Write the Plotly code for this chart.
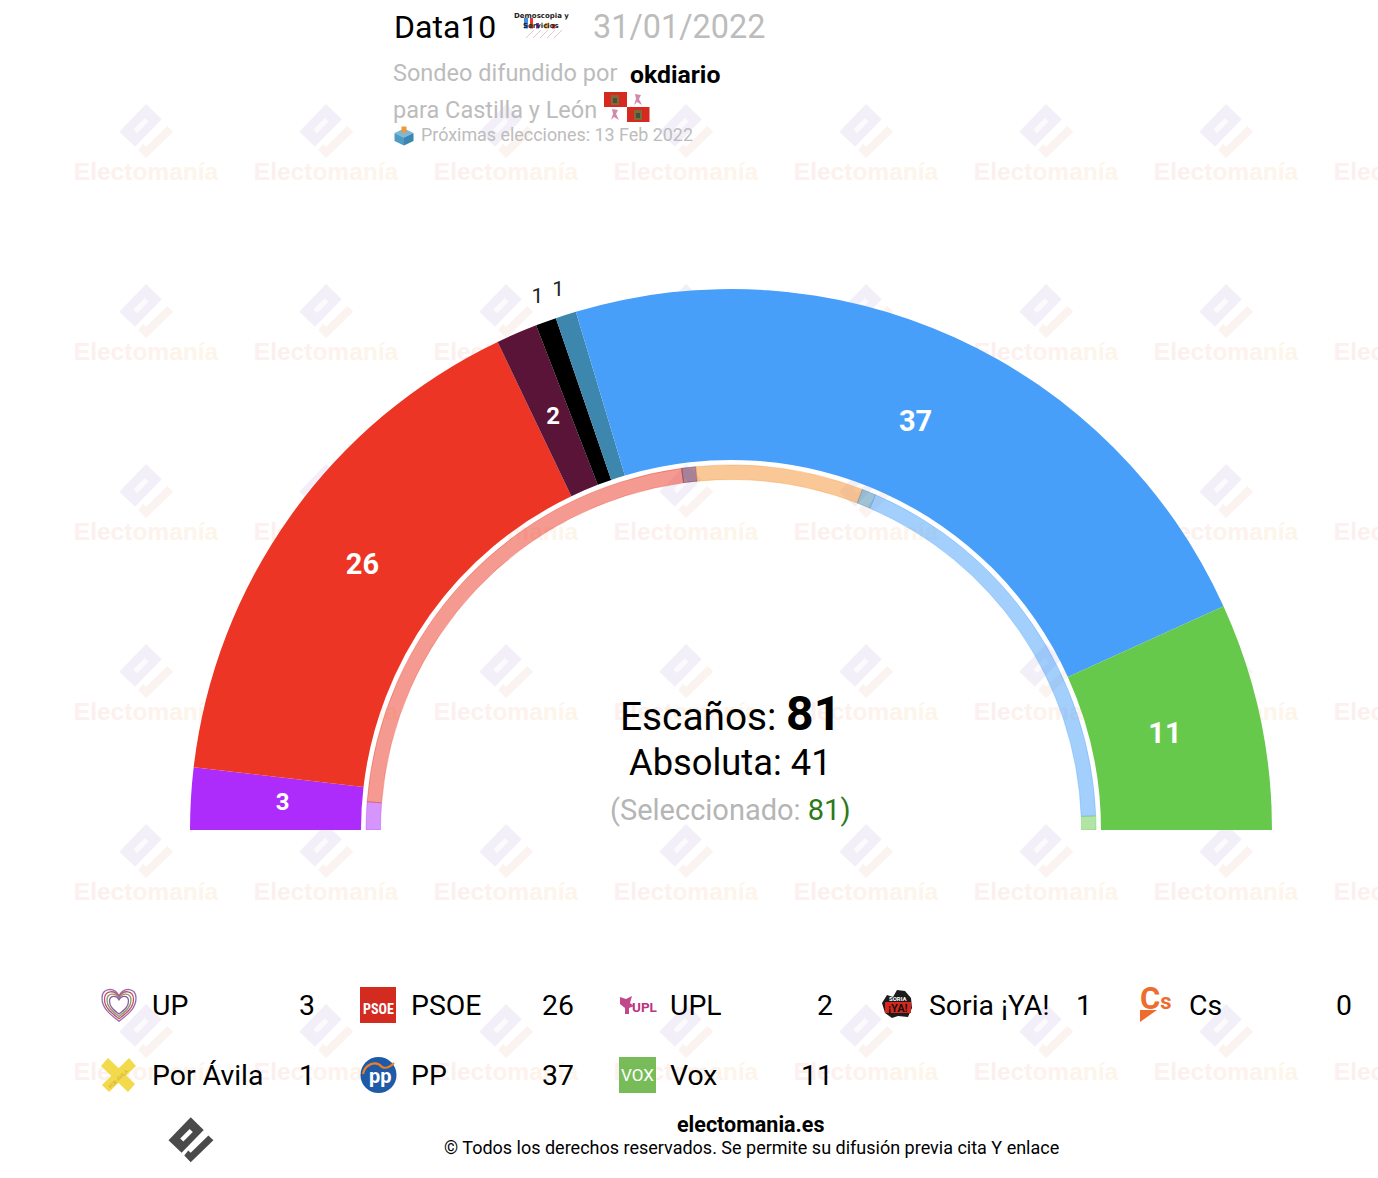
import plotly.graph_objects as go

# ---- data ----
parties = ["UP", "PSOE", "UPL", "Soria ¡YA!", "Por Ávila", "Cs", "PP", "Vox"]
seats = [3, 26, 2, 1, 1, 0, 37, 11]
colors = ["#ad2cfb", "#ec3524", "#5a1438", "#000000", "#3d86ad", "#f5912d", "#479ffa", "#66c94b"]
ring_parties = ["UP", "PSOE", "UPL", "Cs", "Por Ávila", "PP", "Vox"]
ring_seats = [2, 35, 1, 12, 1, 29, 1]
legend_row1 = ["UP", "PSOE", "UPL", "Soria ¡YA!", "Cs"]
legend_row2 = ["Por Ávila", "PP", "Vox"]
total_seats = 81
majority = 41
selected = 81
pollster = "Data10"
poll_date = "31/01/2022"
sponsor = "okdiario"
region = "Castilla y León"
next_election = "13 Feb 2022"

F = "Roboto"
GREY = "#bcbcbc"


def hex_rgba(h, a):
    return f"rgba({int(h[1:3],16)},{int(h[3:5],16)},{int(h[5:7],16)},{a})"


def segs(names, vals):
    out, cum = [], 0
    for n, v in zip(names, vals):
        if v > 0:
            out.append((n, (cum + v / 2) * 180 / total_seats, v * 180 / total_seats, v))
        cum += v
    return out


col_of = dict(zip(parties, colors))

fig = go.Figure()

# ---- watermark (under the polar layer) ----
wm_letters = "Electomanía"
wm_cols = ["#fcf0f0", "#fcf0ef", "#fcf0ee", "#fcf1ed", "#fdf1ed", "#fdf2ec", "#fdf2ec", "#fdf3eb", "#fdf4eb", "#fdf4ea", "#fdf5ea"]
wm_text = "<b>" + "".join(f'<span style="color:{c}">{l}</span>' for l, c in zip(wm_letters, wm_cols)) + "</b>"
tile_x = [146 + 180 * i for i in range(8)]
tile_y = [135 + 180 * j for j in range(-1, 6)]
fig.add_trace(go.Scatter(
    x=[x for x in tile_x for y in tile_y],
    y=[y + 39 for x in tile_x for y in tile_y],
    mode="text", text=[wm_text] * (len(tile_x) * len(tile_y)),
    textposition="middle center",
    textfont=dict(family="Liberation Sans", size=24.5, color="#fcf1ed"),
    hoverinfo="skip", showlegend=False))


def poly(pts):
    return "M" + " L".join(f"{x:.1f},{y:.1f}" for x, y in pts) + " Z "


BLOCK = [(0, -31), (15.7, -15.7), (-11, 11.7), (-26.7, -3.3)]
SLOT = [(-12.7, -5.6), (-1.3, -17), (2.5, -13.2), (-8.9, -1.8)]
TICK = [(-7.7, 15), (0, 23.3), (27.3, -3.3), (21.3, -9), (0, 11.7), (-3, 9)]


def icon_paths(cx, cy, s=1.0):
    f = lambda pts: poly([(cx + s * a, cy + s * b) for a, b in pts])
    return f(BLOCK), f(SLOT), f(TICK)


shapes = []
wm_b, wm_s, wm_t = "", "", ""
for x in tile_x:
    for y in tile_y[1:]:
        b, s, t = icon_paths(x, y)
        wm_b += b
        wm_s += s
        wm_t += t
for path, col in ((wm_b, "#f2eff8"), (wm_s, "#fbfafd"), (wm_t, "#fbf3f0")):
    shapes.append(dict(type="path", xref="x", yref="y", path=path, fillcolor=col,
                       line=dict(width=0), layer="below"))

# ---- gauge ----
outer = segs(parties, seats)
ring = segs(ring_parties, ring_seats)
R_IN, R_OUT, RING_IN, RING_OUT = 370, 541, 350.5, 365
fig.add_trace(go.Barpolar(
    theta=[s[1] for s in outer], width=[s[2] for s in outer],
    base=[R_IN] * len(outer), r=[R_OUT - R_IN] * len(outer),
    marker=dict(color=[col_of[s[0]] for s in outer], line=dict(width=0)),
    hoverinfo="skip", showlegend=False))
fig.add_trace(go.Barpolar(
    theta=[s[1] for s in ring], width=[s[2] for s in ring],
    base=[RING_IN] * len(ring), r=[RING_OUT - RING_IN] * len(ring),
    marker=dict(color=[hex_rgba(col_of[s[0]], 0.5) for s in ring],
                line=dict(width=1, color=[hex_rgba(col_of[s[0]], 0.35) for s in ring])),
    hoverinfo="skip", showlegend=False))

big = [s for s in outer if s[3] > 1]
small = [s for s in outer if s[3] <= 1]
label_r = {"UP": 449, "PSOE": 453, "UPL": 449, "PP": 446, "Vox": 444}
fig.add_trace(go.Scatterpolar(
    theta=[s[1] for s in big], r=[label_r[s[0]] for s in big], mode="text",
    text=[f"<b>{s[3]}</b>" for s in big],
    textfont=dict(family=F, size=[29 if s[3] > 9 else 24 for s in big], color="#ffffff"),
    hoverinfo="skip", showlegend=False))
fig.add_trace(go.Scatterpolar(
    theta=[s[1] for s in small], r=[566] * len(small), mode="text",
    text=[str(s[3]) for s in small],
    textfont=dict(family=F, size=21, color="#222222"),
    hoverinfo="skip", showlegend=False))

# ---- texts ----
ann = []


def T(x, y, text, size, color="#000000", anchor="left", family=F, angle=0):
    ann.append(dict(x=x, y=y, xref="x", yref="y", text=text, showarrow=False, xanchor=anchor,
                    yanchor="middle", textangle=angle, borderpad=0,
                    font=dict(family=family, size=size, color=color)))


def P(pts, col, layer="above", lw=0, lc=None):
    shapes.append(dict(type="path", xref="x", yref="y", path=poly(pts), fillcolor=col,
                       line=dict(width=lw, color=lc or col), layer=layer))


def R(x0, y0, x1, y1, col):
    shapes.append(dict(type="rect", xref="x", yref="y", x0=x0, y0=y0, x1=x1, y1=y1,
                       fillcolor=col, line=dict(width=0), layer="above"))


T(392.5, 27, pollster, 32)
T(592, 27, poll_date, 32.4, GREY)
T(392, 73, "Sondeo difundido por", 23.5, GREY)
T(629, 74, f"<b>{sponsor}</b>", 24.8)
T(392, 110, f"para {region}", 23.5, GREY)
T(420, 134.5, f"Próximas elecciones: {next_election}", 17.9, GREY)

T(730, 713, f'Escaños: <span style="font-size:48px"><b>{total_seats}</b></span>', 38.8, anchor="center")
T(730.5, 762.5, f"Absoluta: {majority}", 36.3, anchor="center")
T(730.5, 810, f'(Seleccionado: <span style="color:#2c7a17">{selected})</span>', 29, "#b5b5b5", anchor="center")

T(751, 1124, "<b>electomania.es</b>", 21.5, anchor="center")
T(751, 1147.5, "© Todos los derechos reservados. Se permite su difusión previa cita Y enlace", 18, anchor="center")

# legend text
name_x = [151, 410, 669, 928, 1188]
value_x = [315.5, 574.5, 833.5, 1092.5, 1352.5]
for row, yy in ((legend_row1, 1005), (legend_row2, 1075)):
    for k, name in enumerate(row):
        T(name_x[k], yy, name, 28.4)
        T(value_x[k], yy, str(seats[parties.index(name)]), 28.4, anchor="right")

# ---- logos ----
# footer logo
b, s, t = icon_paths(190.7, 1143, 0.83)
for path, col in ((b, "#4a4a4a"), (s, "#ffffff"), (t, "#4a4a4a")):
    shapes.append(dict(type="path", xref="x", yref="y", path=path, fillcolor=col, line=dict(width=0), layer="above"))


# UP heart
def heart(cx, cy, s):
    p = f"M{cx},{cy + s * 0.95} "
    p += f"C{cx - .6 * s},{cy + .5 * s} {cx - s},{cy + .15 * s} {cx - s},{cy - .4 * s} "
    p += f"C{cx - s},{cy - s} {cx - .3 * s},{cy - 1.1 * s} {cx},{cy - .55 * s} "
    p += f"C{cx + .3 * s},{cy - 1.1 * s} {cx + s},{cy - s} {cx + s},{cy - .4 * s} "
    p += f"C{cx + s},{cy + .15 * s} {cx + .6 * s},{cy + .5 * s} {cx},{cy + s * 0.95} Z"
    return p


for sc, col in ((17, "#9a6aa8"), (14.5, "#c2506e"), (12, "#8a9a6a"), (9.5, "#8a5aa0")):
    shapes.append(dict(type="path", xref="x", yref="y", path=heart(119, 1005, sc),
                       line=dict(width=1.3, color=col), layer="above"))

# PSOE
R(360, 987, 396, 1023, "#d32b20")
T(378, 1009, "<b>PSOE</b>", 14, "#ffffff", "center", "Roboto Condensed, Roboto")

# UPL
T(631, 1007, "<b>UPL</b>", 13.5, "#b8367f", "left")
P([(620, 997), (626, 999), (632, 996), (630, 1003), (634, 1006), (629, 1008), (629, 1014), (625, 1014), (625, 1008), (620, 1004)], "#c0488c")

# Soria
P([(882, 1003), (887, 995), (893, 997), (897, 990), (905, 991), (911, 998), (912, 1008), (908, 1017), (898, 1016), (892, 1018), (885, 1013)], "#1c1c1c")
R(885, 1002, 911, 1013, "#d8261c")
T(898, 1008, "<b>¡YA!</b>", 11, "#111111", "center")
T(898, 998, "<b>SORIA</b>", 6, "#ffffff", "center")

# Cs
T(1139, 998, '<b>C<span style="font-size:22px">s</span></b>', 31, "#ee6c2e")
P([(1140, 1010), (1157, 1010), (1140, 1022)], "#ee6c2e")

# Por Ávila
YEL = "#f3da4b"
P([(108, 1058), (135, 1084), (128, 1092), (101, 1066)], YEL)
P([(129, 1058), (136, 1066), (109, 1092), (102, 1085)], YEL)
T(118, 1079, "POR ÁVILA", 5, "#c9a93a", "center", angle=-44)

# PP
shapes.append(dict(type="circle", xref="x", yref="y", x0=360.5, y0=1057, x1=396.5, y1=1093,
                   fillcolor="#1f5aa6", line=dict(width=0), layer="above"))
shapes.append(dict(type="path", xref="x", yref="y",
                   path="M363,1074 C365,1064 376,1060 382,1067 C386,1069 390,1067 394,1063",
                   line=dict(width=2.2, color="#ef7d22"), layer="above"))
T(380, 1076, "<b>pp</b>", 20, "#ffffff", "center")

# Vox
R(619, 1057, 656, 1093, "#78bc5a")
T(637.5, 1075, "VOX", 17, "#ffffff", "center")

# Poll logo
for x0, x1, y0, c in ((524, 528, 18, "#3f8fe8"), (530, 533, 18, "#e03a2e"), (536, 539, 23, "#7d3ac0"), (545, 549, 23, "#ee9a2e"), (552, 555, 24, "#e03a2e")):
    R(x0, y0, x1, 28.5, c)
for x0 in (526, 533, 540, 547, 554):
    shapes.append(dict(type="line", xref="x", yref="y", x0=x0, y0=38, x1=x0 + 8, y1=30,
                       line=dict(width=1, color="#dccad8"), layer="above"))
T(541, 16, "<b>Demoscopia y</b>", 7, "#222222", "center", "DejaVu Sans")
T(541, 25.5, "<b>Servicios</b>", 7, "#222222", "center", "DejaVu Sans")

# Flag
R(604, 92, 627, 107, "#d6291f")
R(627, 107, 649.5, 122, "#d6291f")
for cx, cy in ((615, 100), (638, 115)):
    R(cx - 4, cy - 5, cx + 4, cy + 5, "#7c6a3a")
    R(cx - 2, cy - 2, cx + 2, cy + 3, "#4a4f3a")
for cx, cy in ((638, 100), (615, 115)):
    P([(cx - 3, cy - 6), (cx + 3, cy - 5), (cx + 1, cy - 1), (cx + 4, cy + 5), (cx - 1, cy + 2), (cx - 4, cy + 5), (cx - 2, cy - 1)], "#d08aab")

# Ballot box
P([(394.5, 133), (404, 128.5), (413.5, 133), (404, 137.5)], "#78b8d8")
P([(394.5, 133), (404, 137.5), (404, 145.5), (394.5, 141)], "#4e9cc4")
P([(413.5, 133), (404, 137.5), (404, 145.5), (413.5, 141)], "#3a86b0")
R(401.5, 126.5, 406.5, 133, "#ee9a3a")

fig.update_layout(
    width=1378, height=1178, margin=dict(l=0, r=0, t=0, b=0, pad=0),
    paper_bgcolor="#ffffff", plot_bgcolor="rgba(0,0,0,0)",
    showlegend=False, shapes=shapes, annotations=ann,
    font=dict(family=F),
    xaxis=dict(range=[0, 1378], visible=False, fixedrange=True, domain=[0, 1]),
    yaxis=dict(range=[1178, 0], visible=False, fixedrange=True, domain=[0, 1]),
    polar=dict(
        domain=dict(x=[(731 - 600) / 1378, (731 + 600) / 1378],
                    y=[(1178 - 830) / 1178, (1178 - 230) / 1178]),
        sector=[0, 180], bgcolor="rgba(0,0,0,0)", barmode="overlay",
        radialaxis=dict(range=[0, 600], visible=False),
        angularaxis=dict(direction="clockwise", rotation=180, visible=False, thetaunit="degrees"),
    ),
)

fig.write_html("out.html", config={"displayModeBar": False},
               post_script="document.body.style.margin='0';document.body.style.overflow='hidden';")
